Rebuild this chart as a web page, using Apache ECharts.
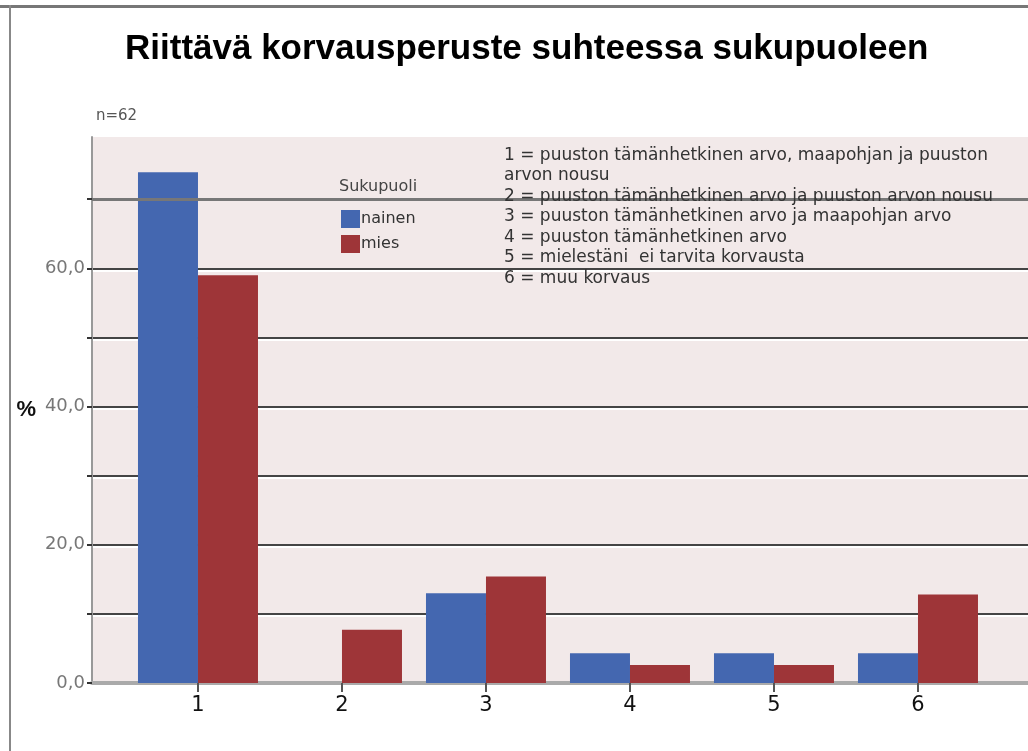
<!DOCTYPE html>
<html>
<head>
<meta charset="utf-8">
<script src="https://cdn.jsdelivr.net/npm/echarts@6/dist/echarts.min.js"></script>
<style>
  html, body { margin: 0; padding: 0; background: #fff; }
  #chart { width: 1028px; height: 751px; }
</style>
</head>
<body>
<div id="chart"></div>
<script>
// luokat 1..6 ja prosentit sukupuolittain
var categories = [1, 2, 3, 4, 5, 6];
var nainen = [73.9, 0, 13.0, 4.3, 4.3, 4.3];
var mies = [59.0, 7.7, 15.4, 2.6, 2.6, 12.8];
var yTicks = [0, 10, 20, 30, 40, 50, 60, 70];
var selitteet = [
  '1 = puuston tämänhetkinen arvo, maapohjan ja puuston',
  'arvon nousu',
  '2 = puuston tämänhetkinen arvo ja puuston arvon nousu',
  '3 = puuston tämänhetkinen arvo ja maapohjan arvo',
  '4 = puuston tämänhetkinen arvo',
  '5 = mielestäni  ei tarvita korvausta',
  '6 = muu korvaus'
];

function pairs(vals) {
  return categories.map(function (c, i) { return [c, vals[i]]; });
}

var chart = echarts.init(document.getElementById('chart'));
var font = 'Liberation Sans, Arial, sans-serif';
var small = 'DejaVu Sans, sans-serif';

var option = {
  backgroundColor: '#fff',
  textStyle: { fontFamily: small },
  title: [
    {
      text: 'Riittävä korvausperuste suhteessa sukupuoleen',
      left: 120, top: 27,
      textStyle: { fontSize: 35, fontWeight: 'bold', color: '#000', fontFamily: font }
    },
    {
      text: 'n=62', left: 91, top: 104,
      textStyle: { fontSize: 15, fontWeight: 'normal', color: '#555', fontFamily: small }
    },
    {
      text: 'Sukupuoli', left: 334, top: 174,
      textStyle: { fontSize: 16, fontWeight: 'normal', color: '#444', fontFamily: small }
    },
    {
      text: selitteet.join('\n'), left: 499, top: 140,
      textStyle: { fontSize: 17, fontWeight: 'normal', color: '#333', lineHeight: 20.5, fontFamily: small }
    }
  ],
  legend: {
    orient: 'vertical',
    left: 336, top: 205,
    itemWidth: 19, itemHeight: 18, itemGap: 7,
    icon: 'rect',
    textStyle: { fontSize: 16, color: '#333', fontFamily: small, padding: [0, 0, 0, -4] },
    data: ['nainen', 'mies']
  },
  grid: {
    left: 92, right: 0, top: 137, bottom: 68,
    show: true, backgroundColor: '#f2e9e9', borderWidth: 0
  },
  xAxis: {
    type: 'value',
    min: 0.264, max: 6.764,
    axisLine: { show: true, onZero: false, lineStyle: { color: '#aaa', width: 4 } },
    axisTick: { show: true, customValues: categories, length: 9, lineStyle: { color: '#555', width: 2 } },
    axisLabel: { customValues: categories, fontSize: 21, color: '#111', margin: 12 },
    splitLine: { show: false }
  },
  yAxis: {
    type: 'value',
    min: 0, max: 79, interval: 10,
    name: '%', nameLocation: 'middle', nameRotate: 0, nameGap: 56,
    nameTextStyle: { fontSize: 22, fontWeight: 'bold', color: '#111', fontFamily: font },
    axisLine: { show: true, lineStyle: { color: '#999', width: 2 } },
    axisTick: { show: true, customValues: yTicks, length: 5, lineStyle: { color: '#333', width: 2 } },
    axisLabel: {
      fontSize: 18, color: '#777', margin: 7, showMaxLabel: false,
      formatter: function (v) { return v % 20 === 0 ? v.toFixed(1).replace('.', ',') : ''; }
    },
    splitLine: {
      show: true, showMinLine: false, showMaxLine: false,
      lineStyle: { color: '#444', width: 2, shadowColor: '#fff', shadowOffsetY: 2, shadowBlur: 0 }
    }
  },
  series: [
    {
      name: 'nainen', type: 'bar', barWidth: 60, barGap: 0,
      itemStyle: { color: '#4467b0' },
      data: pairs(nainen),
      markLine: {
        silent: true, symbol: 'none', label: { show: false },
        lineStyle: { color: '#777', width: 3, type: 'solid' },
        data: [{ yAxis: 70 }]
      }
    },
    {
      name: 'mies', type: 'bar', barWidth: 60, barGap: 0,
      itemStyle: { color: '#9e3538' },
      data: pairs(mies)
    }
  ],
  graphic: [
    { type: 'rect', left: 0, top: 5, shape: { width: 1028, height: 3 }, style: { fill: '#777' } },
    { type: 'rect', left: 9, top: 5, shape: { width: 2, height: 746 }, style: { fill: '#888' } }
  ]
};

chart.setOption(option);
window.addEventListener('resize', function () { chart.resize(); });
</script>
</body>
</html>
